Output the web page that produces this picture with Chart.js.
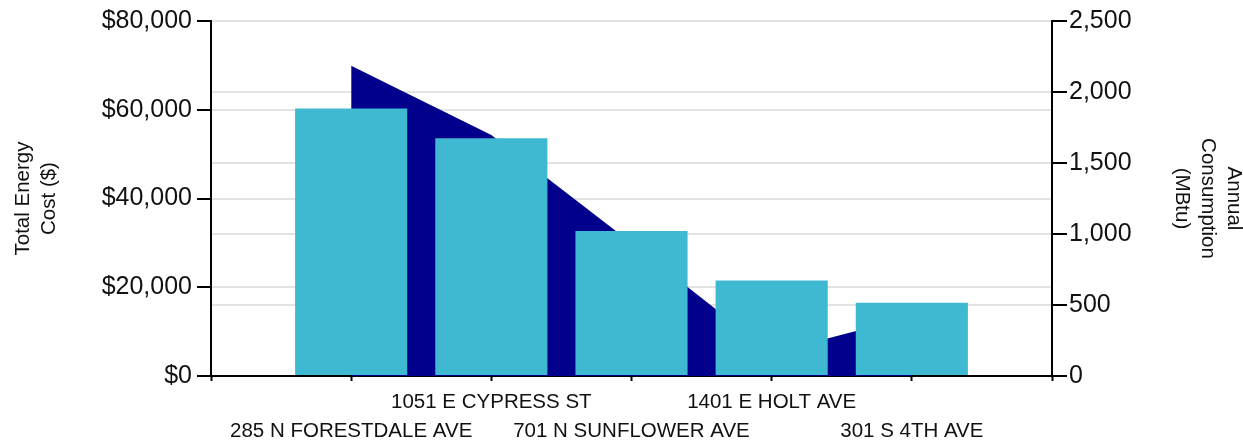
<!DOCTYPE html>
<html>
<head>
<meta charset="utf-8">
<script src="https://cdn.jsdelivr.net/npm/chart.js@4.4.1/dist/chart.umd.min.js"></script>
<style>
  html, body { margin: 0; padding: 0; background: #ffffff; }
  canvas { display: block; }
</style>
</head>
<body>
<canvas id="chart" width="1243" height="443"></canvas>
<script>
// ---- Data ----
const categories = ['285 N FORESTDALE AVE', '1051 E CYPRESS ST', '701 N SUNFLOWER AVE', '1401 E HOLT AVE', '301 S 4TH AVE'];
const totalEnergyCost = [60300, 53600, 32700, 21500, 16500];      // $ (bars, left axis)
const annualConsumption = [2185, 1697, 937, 162, 419];           // MBtu (area, right axis)
const costTicks = [0, 20000, 40000, 60000, 80000];
const consumptionTicks = [0, 500, 1000, 1500, 2000, 2500];
const costAxisTitle = ['Total Energy', 'Cost ($)'];
const consumptionAxisTitle = ['Annual', 'Consumption', '(MBtu)'];

const FONT = "'Liberation Sans', Arial, Helvetica, sans-serif";
const TEXT = '#111111';

const positions = categories.map((c, i) => i + 1);
const xTicks = [0, ...positions, categories.length + 1];

const barData = categories.map((c, i) => ({ x: positions[i], y: totalEnergyCost[i] }));
const areaData = categories.map((c, i) => ({ x: positions[i], y: annualConsumption[i] }));

new Chart(document.getElementById('chart'), {
  type: 'bar',
  data: {
    datasets: [
      {
        type: 'line',
        label: 'Annual Consumption (MBtu)',
        data: areaData,
        xAxisID: 'x',
        yAxisID: 'y1',
        fill: 'origin',
        backgroundColor: '#00008C',
        borderColor: '#00008C',
        borderWidth: 0,
        pointRadius: 0,
        tension: 0,
        order: 2
      },
      {
        type: 'bar',
        label: 'Total Energy Cost ($)',
        data: barData,
        xAxisID: 'x',
        yAxisID: 'y',
        backgroundColor: '#3FB9D1',
        borderWidth: 0,
        categoryPercentage: 0.8,
        barPercentage: 1.0,
        order: 1
      }
    ]
  },
  options: {
    responsive: false,
    animation: false,
    devicePixelRatio: 1,
    layout: { padding: { top: 21, left: 0, right: 0, bottom: 0 } },
    plugins: {
      legend: { display: false },
      tooltip: { enabled: false }
    },
    scales: {
      x: {
        type: 'linear',
        min: 0,
        max: categories.length + 1,
        offset: false,
        afterBuildTicks: (s) => { s.ticks = xTicks.map(v => ({ value: v })); },
        afterFit: (s) => { s.height = 67; },
        grid: { display: true, drawOnChartArea: false, offset: false, drawTicks: true, tickLength: 5, tickColor: '#000', tickWidth: 2 },
        border: { display: true, color: '#000', width: 2 },
        ticks: {
          autoSkip: false,
          maxRotation: 0,
          minRotation: 0,
          padding: 6,
          color: TEXT,
          font: { family: FONT, size: 20.5, lineHeight: 1.45 },
          callback: (v) => {
            const idx = Math.round(v) - 1;
            if (idx < 0 || idx >= categories.length) return '';
            return idx % 2 === 0 ? ['', categories[idx]] : categories[idx];
          }
        }
      },
      y: {
        type: 'linear',
        position: 'left',
        min: 0,
        max: costTicks[costTicks.length - 1],
        afterBuildTicks: (s) => { s.ticks = costTicks.map(v => ({ value: v })); },
        afterFit: (s) => { s.width = 211; },
        grid: { color: '#e3e3e3', lineWidth: 2, drawTicks: true, tickLength: 14, tickColor: '#000', tickWidth: 2 },
        border: { display: true, color: '#000', width: 2 },
        ticks: {
          padding: 5,
          color: TEXT,
          font: { family: FONT, size: 25 },
          callback: (v) => '$' + Number(v).toLocaleString('en-US')
        },
        title: {
          display: true,
          text: costAxisTitle,
          color: TEXT,
          font: { family: FONT, size: 20.5, lineHeight: 1.28 },
          padding: { top: 10, bottom: 0 }
        }
      },
      y1: {
        type: 'linear',
        position: 'right',
        min: 0,
        max: consumptionTicks[consumptionTicks.length - 1],
        afterBuildTicks: (s) => { s.ticks = consumptionTicks.map(v => ({ value: v })); },
        afterFit: (s) => { s.width = 191; },
        grid: { drawOnChartArea: true, color: '#e3e3e3', lineWidth: 2, drawTicks: true, tickLength: 15, tickColor: '#000', tickWidth: 2 },
        border: { display: true, color: '#000', width: 2 },
        ticks: {
          padding: 2,
          color: TEXT,
          font: { family: FONT, size: 25 },
          callback: (v) => Number(v).toLocaleString('en-US')
        },
        title: {
          display: true,
          text: consumptionAxisTitle,
          color: TEXT,
          font: { family: FONT, size: 20.5, lineHeight: 1.28 },
          padding: { top: -4, bottom: 0 }
        }
      }
    }
  }
});
</script>
</body>
</html>
